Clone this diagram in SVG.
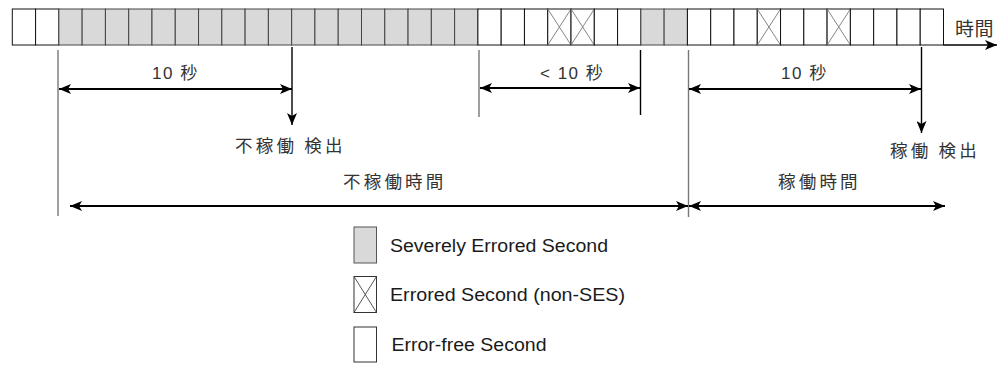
<svg xmlns="http://www.w3.org/2000/svg" width="1005" height="365" viewBox="0 0 1005 365">
<style>
.w{fill:#fff;stroke:#111;stroke-width:1}
.g{fill:#d9d9d9;stroke:#444;stroke-width:1}
.x{fill:none;stroke:#777;stroke-width:0.9}
.ln{fill:none;stroke:#000;stroke-width:2}
.vl{fill:none;stroke:#000;stroke-width:1.4}
.gl{fill:none;stroke:#777;stroke-width:1.4}
.jp{font-family:"Noto Sans CJK JP","Liberation Sans",sans-serif;font-size:17.5px;fill:#333;letter-spacing:3.2px}
.num{font-family:"Liberation Sans","Noto Sans CJK JP",sans-serif;font-size:17px;fill:#333;letter-spacing:1.5px}
.lg{font-family:"Liberation Sans",Arial,sans-serif;font-size:17.5px;fill:#1a1a1a}
</style>
<defs>
<marker id="ah" viewBox="0 0 12 10" refX="12" refY="5" markerWidth="12" markerHeight="10" markerUnits="userSpaceOnUse" orient="auto-start-reverse">
<path d="M0,0 L12,5 L0,10 L3,5 z" fill="#000"/>
</marker>
</defs>
<g id="timeline">
<rect class="w" x="12.3" y="9" width="23.28" height="36"/>
<rect class="w" x="35.58" y="9" width="23.28" height="36"/>
<rect class="g" x="58.86" y="9" width="23.28" height="36"/>
<rect class="g" x="82.14" y="9" width="23.28" height="36"/>
<rect class="g" x="105.42" y="9" width="23.28" height="36"/>
<rect class="g" x="128.7" y="9" width="23.28" height="36"/>
<rect class="g" x="151.98" y="9" width="23.28" height="36"/>
<rect class="g" x="175.26" y="9" width="23.28" height="36"/>
<rect class="g" x="198.54" y="9" width="23.28" height="36"/>
<rect class="g" x="221.82" y="9" width="23.28" height="36"/>
<rect class="g" x="245.1" y="9" width="23.28" height="36"/>
<rect class="g" x="268.38" y="9" width="23.28" height="36"/>
<rect class="g" x="291.66" y="9" width="23.28" height="36"/>
<rect class="g" x="314.94" y="9" width="23.28" height="36"/>
<rect class="g" x="338.22" y="9" width="23.28" height="36"/>
<rect class="g" x="361.5" y="9" width="23.28" height="36"/>
<rect class="g" x="384.78" y="9" width="23.28" height="36"/>
<rect class="g" x="408.06" y="9" width="23.28" height="36"/>
<rect class="g" x="431.34" y="9" width="23.28" height="36"/>
<rect class="g" x="454.62" y="9" width="23.28" height="36"/>
<rect class="w" x="477.9" y="9" width="23.28" height="36"/>
<rect class="w" x="501.18" y="9" width="23.28" height="36"/>
<rect class="w" x="524.46" y="9" width="23.28" height="36"/>
<rect class="w" x="547.74" y="9" width="23.28" height="36"/>
<path class="x" d="M547.74,9 L571.02,45 M571.02,9 L547.74,45"/>
<rect class="w" x="571.02" y="9" width="23.28" height="36"/>
<path class="x" d="M571.02,9 L594.3,45 M594.3,9 L571.02,45"/>
<rect class="w" x="594.3" y="9" width="23.28" height="36"/>
<rect class="w" x="617.58" y="9" width="23.28" height="36"/>
<rect class="g" x="640.86" y="9" width="23.28" height="36"/>
<rect class="g" x="664.14" y="9" width="23.28" height="36"/>
<rect class="w" x="687.42" y="9" width="23.28" height="36"/>
<rect class="w" x="710.7" y="9" width="23.28" height="36"/>
<rect class="w" x="733.98" y="9" width="23.28" height="36"/>
<rect class="w" x="757.26" y="9" width="23.28" height="36"/>
<path class="x" d="M757.26,9 L780.54,45 M780.54,9 L757.26,45"/>
<rect class="w" x="780.54" y="9" width="23.28" height="36"/>
<rect class="w" x="803.82" y="9" width="23.28" height="36"/>
<rect class="w" x="827.1" y="9" width="23.28" height="36"/>
<path class="x" d="M827.1,9 L850.38,45 M850.38,9 L827.1,45"/>
<rect class="w" x="850.38" y="9" width="23.28" height="36"/>
<rect class="w" x="873.66" y="9" width="23.28" height="36"/>
<rect class="w" x="896.94" y="9" width="23.28" height="36"/>
<rect class="w" x="920.22" y="9" width="23.28" height="36"/>
<text class="jp" x="955" y="36" style="font-size:19px;letter-spacing:0.5px">時間</text>
</g>
<g id="connectors">
<line class="vl" x1="943.5" y1="45" x2="997" y2="45" marker-end="url(#ah)"/>
<line class="gl" x1="58" y1="50" x2="58" y2="216"/>
<line class="gl" x1="479" y1="50" x2="479" y2="117"/>
<line class="vl" x1="640.5" y1="50" x2="640.5" y2="115"/>
<line class="gl" x1="688.5" y1="50" x2="688.5" y2="217"/>
<line class="vl" x1="292" y1="47" x2="292" y2="125" marker-end="url(#ah)"/>
<line class="vl" x1="921.5" y1="47" x2="921.5" y2="133" marker-end="url(#ah)"/>
<line class="ln" x1="59" y1="89" x2="292" y2="89" marker-start="url(#ah)" marker-end="url(#ah)"/>
<line class="ln" x1="480" y1="88" x2="640" y2="88" marker-start="url(#ah)" marker-end="url(#ah)"/>
<line class="ln" x1="689" y1="89" x2="921" y2="89" marker-start="url(#ah)" marker-end="url(#ah)"/>
<line class="ln" x1="70" y1="206" x2="688" y2="206" marker-start="url(#ah)" marker-end="url(#ah)"/>
<line class="ln" x1="689" y1="206" x2="945" y2="206" marker-start="url(#ah)" marker-end="url(#ah)"/>
</g>
<g id="labels">
<text class="num" x="152" y="79">10 秒</text>
<text class="num" x="540" y="79">&lt; 10 秒</text>
<text class="num" x="781" y="79">10 秒</text>
<text class="jp" x="235" y="151.5">不稼働 検出</text>
<text class="jp" x="343" y="188">不稼働時間</text>
<text class="jp" x="890" y="156.5">稼働 検出</text>
<text class="jp" x="778" y="188">稼働時間</text>
</g>
<g id="legend-ses">
<rect class="g" x="354" y="227" width="22.5" height="36" style="stroke:#555"/>
<text class="lg" x="390" y="252" textLength="218" lengthAdjust="spacingAndGlyphs">Severely Errored Second</text>
</g>
<g id="legend-es">
<rect class="w" x="354" y="276.5" width="22.5" height="36" style="stroke:#333"/>
<path class="x" d="M354,276.5 L376.5,312.5 M376.5,276.5 L354,312.5" style="stroke:#444"/>
<text class="lg" x="390" y="301" textLength="235" lengthAdjust="spacingAndGlyphs">Errored Second (non-SES)</text>
</g>
<g id="legend-ef">
<rect class="w" x="354" y="327" width="22.5" height="35" style="stroke:#333"/>
<text class="lg" x="391.5" y="351" textLength="155" lengthAdjust="spacingAndGlyphs">Error-free Second</text>
</g>
</svg>
